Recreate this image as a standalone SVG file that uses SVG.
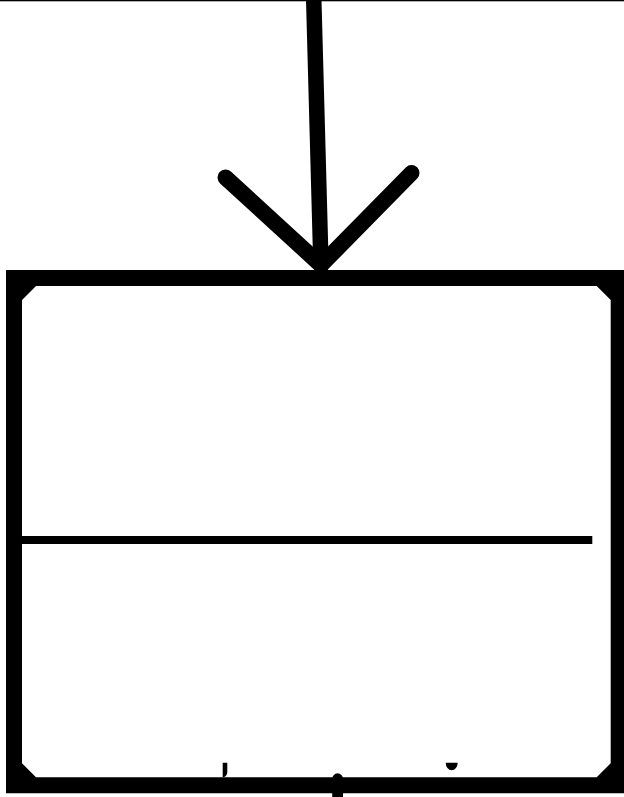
<svg xmlns="http://www.w3.org/2000/svg" width="624" height="797" viewBox="0 0 624 797">
  <style>
    .ink { fill: #000; }
    .conn { stroke: #000; fill: none; stroke-linecap: round; stroke-linejoin: round; }
  </style>
  <rect width="624" height="797" fill="#fff"/>
  <g id="top-edge">
    <rect class="ink" x="0" y="0" width="624" height="1.3"/>
  </g>
  <g id="box">
    <path class="ink" fill-rule="evenodd" d="M6,270 H627 V793.3 H6 Z M36,286 H596.7 L610.7,300 V763.3 L596.7,777.3 H36 L22,763.3 V300 Z"/>
    <rect class="ink" x="22" y="536" width="570.3" height="8"/>
    <path class="ink" d="M222.7,762.7 H227.3 V772 Q227.3,776 223.5,777.3 H222.7 Z"/>
    <path class="ink" d="M332.2,797 V779 A5.4,5.7 0 0 1 343,779 V797 Z"/>
    <path class="ink" d="M445.7,762.7 H457.7 A6,7.6 0 0 1 445.7,762.7 Z"/>
  </g>
  <g id="connectors">
    <line class="conn" x1="313.7" y1="-2" x2="321" y2="266" stroke-width="15.5" stroke-linecap="butt"/>
    <polyline class="conn" points="225.5,177.5 321,265 411.5,173" stroke-width="16"/>
  </g>
</svg>
